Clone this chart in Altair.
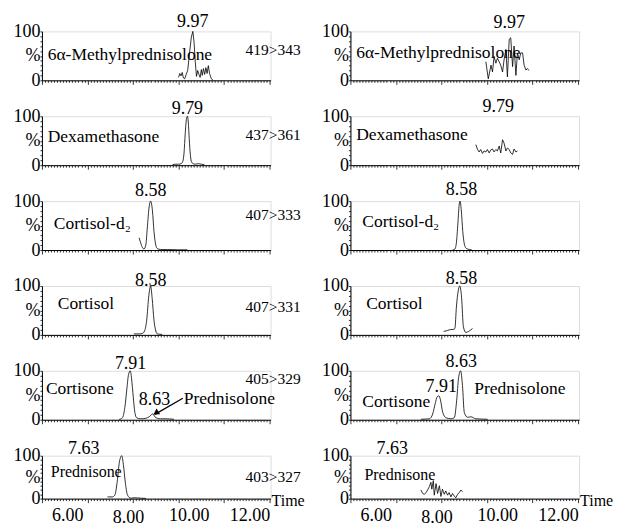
import altair as alt
import pandas as pd

FONT = "Liberation Serif"
X_DOMAIN = [5.0, 12.53]
PANEL_W = 229
ROW_H = [49, 49, 49, 49, 49, 43]

# ---------------- traces (retention time in min, relative intensity %) ----------------
# Row 1: 6a-Methylprednisolone 419>343
L1_T = [9.50, 9.54, 9.58, 9.62, 9.66, 9.70, 9.75, 9.80, 9.86, 9.92, 9.97, 10.01, 10.05, 10.09,
        10.13, 10.17, 10.21, 10.25, 10.28, 10.32, 10.36, 10.40, 10.44, 10.48, 10.52, 10.58, 10.64]
L1_I = [6, 14, 9, 16, 5, 3, 12, 20, 55, 88, 100, 78, 38, 8, 20, 12, 6, 22, 10, 24, 12, 26, 14, 30, 14, 3, 0]
R1_T = [9.46, 9.54, 9.63, 9.68, 9.73, 9.79, 9.84, 9.90, 9.95, 10.01, 10.06, 10.12, 10.17, 10.23,
        10.28, 10.34, 10.39, 10.45, 10.50, 10.56, 10.61, 10.67, 10.72, 10.78, 10.83, 10.88]
R1_I = [38, 3, 31, 17, 49, 35, 45, 38, 31, 17, 42, 63, 7, 84, 87, 28, 70, 10, 56, 42, 56, 56, 31, 21, 24, 20]

# Row 2: Dexamethasone 437>361
L2_T = [9.30, 9.40, 9.50, 9.58, 9.64, 9.68, 9.72, 9.76, 9.79, 9.82, 9.85, 9.89, 9.93, 9.98,
        10.05, 10.15, 10.25, 10.35]
L2_I = [1, 2, 2, 3, 8, 25, 65, 95, 100, 88, 55, 20, 6, 3, 2, 3, 2, 1]
R2_T = [9.13, 9.18, 9.24, 9.29, 9.35, 9.40, 9.46, 9.51, 9.57, 9.62, 9.68, 9.73, 9.79, 9.84,
        9.90, 9.95, 10.01, 10.06, 10.12, 10.17, 10.23, 10.28, 10.34, 10.39, 10.45, 10.50]
R2_I = [42, 33, 27, 32, 24, 29, 27, 32, 25, 31, 33, 27, 32, 29, 39, 25, 52, 45, 29, 35, 32, 25,
        22, 33, 27, 29]

# Row 3: Cortisol-d2 407>333
L3_T = [8.20, 8.25, 8.31, 8.36, 8.42, 8.47, 8.53, 8.58, 8.64, 8.69, 8.75, 8.80, 8.91, 9.13, 9.46, 9.79]
L3_I = [25, 15, 5, 2, 10, 45, 88, 100, 80, 38, 10, 3, 1, 1, 0.5, 0.5]
R3_T = [8.36, 8.44, 8.49, 8.54, 8.58, 8.61, 8.65, 8.70, 8.76, 8.82, 8.93, 9.00]
R3_I = [0, 2, 15, 55, 92, 100, 82, 38, 10, 3, 1, 0]

# Row 4: Cortisol 407>331
L4_T = [8.03, 8.20, 8.31, 8.38, 8.45, 8.52, 8.58, 8.63, 8.69, 8.75, 8.80, 8.96]
L4_I = [2, 2, 3, 8, 30, 80, 100, 75, 30, 8, 2, 1]
R4_T = [8.07, 8.20, 8.31, 8.38, 8.44, 8.49, 8.55, 8.60, 8.66, 8.72, 8.80, 8.89, 8.96, 9.02]
R4_I = [7, 9, 11, 11, 13, 57, 90, 100, 77, 17, 5, 7, 10, 13]

# Row 5: Cortisone / Prednisolone 405>329
L5_T = [7.54, 7.65, 7.73, 7.80, 7.85, 7.91, 7.95, 8.01, 8.06, 8.12, 8.25, 8.42, 8.53, 8.60,
        8.65, 8.72, 8.80, 8.90, 9.02, 9.35]
L5_I = [0.5, 4, 25, 65, 92, 100, 85, 45, 15, 4, 2, 3, 6, 10, 12, 6, 3, 2, 2, 1]
R5_T = [7.32, 7.60, 7.71, 7.80, 7.85, 7.91, 7.96, 8.04, 8.15, 8.31, 8.42, 8.50, 8.56, 8.63,
        8.69, 8.75, 8.86, 8.97, 9.13, 9.52]
R5_I = [1, 2, 12, 35, 46, 49, 42, 15, 4, 2, 4, 40, 85, 100, 70, 15, 5, 6, 2, 1]

# Row 6: Prednisone 403>327
L6_T = [7.16, 7.32, 7.40, 7.48, 7.55, 7.63, 7.68, 7.75, 7.82, 7.93, 8.03, 8.25, 8.42]
L6_I = [4, 4, 8, 40, 85, 100, 80, 35, 8, 1, 2, 1, 0.5]
R6_T = [7.32, 7.38, 7.43, 7.49, 7.54, 7.60, 7.65, 7.68, 7.73, 7.76, 7.82, 7.87, 7.93, 7.98,
        8.03, 8.09, 8.14, 8.20, 8.25, 8.31, 8.36, 8.42, 8.47, 8.53, 8.58, 8.64, 8.69]
R6_I = [20, 12, 10, 14, 20, 28, 38, 22, 42, 8, 35, 12, 30, 5, 22, 10, 18, 8, 14, 4, 12, 6, 2,
        10, 14, 20, 16]

# ---------------- annotations: (text, t, y%, kind) ----------------
LEFT_LABELS = [
    [("9.97", 9.97, 108, "peak"), ("6α-Methylprednisolone", 5.19, 42, "name"), ("419>343", 13.52, 52, "mrm")],
    [("9.79", 9.79, 104, "peak"), ("Dexamethasone", 5.19, 48, "name"), ("437>361", 13.52, 52, "mrm")],
    [("8.58", 8.58, 110, "peak"), ("Cortisol-d₂", 5.39, 44, "name"), ("407>333", 13.52, 62, "mrm")],
    [("8.58", 8.58, 100, "peak"), ("Cortisol", 5.52, 52, "name"), ("407>331", 13.52, 46, "mrm")],
    [("7.91", 7.92, 104, "peak"), ("8.63", 8.71, 31, "peak"), ("Cortisone", 5.13, 52, "name"),
     ("Prednisolone", 9.67, 33, "name"), ("405>329", 13.52, 73, "mrm")],
    [("7.63", 6.38, 105, "peak"), ("Prednisone", 5.29, 50, "sname"), ("403>327", 13.52, 39, "mrm")],
]
RIGHT_LABELS = [
    [("9.97", 10.23, 106, "peak"), ("6α-Methylprednisolone", 5.19, 46, "name")],
    [("9.79", 9.87, 108, "peak"), ("Dexamethasone", 5.19, 52, "name")],
    [("8.58", 8.66, 112, "peak"), ("Cortisol-d₂", 5.39, 48, "name")],
    [("8.58", 8.66, 104, "peak"), ("Cortisol", 5.52, 52, "name")],
    [("8.63", 8.65, 108, "peak"), ("7.91", 7.99, 56, "peak"), ("Cortisone", 5.39, 27, "name"),
     ("Prednisolone", 9.08, 52, "name")],
    [("7.63", 6.38, 105, "peak"), ("Prednisone", 5.46, 43, "sname")],
]
# arrow in left row 5: from label to minor peak
ARROW_T = [9.64, 8.72]
ARROW_I = [44, 11]

KIND_STYLE = {
    "peak": ("center", 18),
    "name": ("left", 17.5),
    "sname": ("left", 16),
    "mrm": ("right", 15.5),
}

TICKS = [round(5.0 + 0.1 * k, 1) for k in range(76)]
MAJOR_TEST = "abs((datum.value - 5) / 1.5 - round((datum.value - 5) / 1.5)) < 0.001"
XS = alt.Scale(domain=X_DOMAIN, nice=False, zero=False)
YS = alt.Scale(domain=[0, 100], nice=False, zero=True)


def x_axis(bottom):
    common = dict(
        values=TICKS, title=None, grid=False, domainColor="black", domainWidth=1,
        tickColor="black", tickWidth=0.8,
        tickSize={"condition": {"test": MAJOR_TEST, "value": 4}, "value": 2},
        labelFlush=False, labelOverlap=False,
    )
    if bottom:
        return alt.Axis(
            labelExpr="(datum.value >= 6 && abs(datum.value / 2 - round(datum.value / 2)) < 0.001) ? format(datum.value, '.2f') : ''",
            labelFont=FONT, labelFontSize=18, labelColor="black", labelPadding=6,
            labelOffset=-5, labelAngle=0, **common)
    return alt.Axis(labels=False, **common)


def y_axis():
    return alt.Axis(
        values=list(range(0, 101, 10)), title=None, grid=False,
        labelExpr="datum.value == 100 ? '100' : datum.value == 50 ? '%' : datum.value == 0 ? '0' : ''",
        labelFont=FONT, labelFontSize=18, labelColor="black", labelPadding=0,
        labelOverlap=False, labelFlush=False,
        domainColor="black", domainWidth=1, tickColor="black", tickSize=2, tickWidth=0.8,
    )


def panel(row, T, I, labels, interp, arrow=False):
    h = ROW_H[row]
    bottom = row == len(ROW_H) - 1
    xa = x_axis(bottom)
    ya = y_axis()

    def X(f="t"):
        return alt.X(f + ":Q", scale=XS, axis=xa)

    def Y(f="i"):
        return alt.Y(f + ":Q", scale=YS, axis=ya)

    line = alt.Chart(pd.DataFrame({"t": T, "i": I})).mark_line(
        color="black", strokeWidth=0.8, interpolate=interp
    ).encode(x=X(), y=Y())
    layers = [line]
    for kind, (align, fs) in KIND_STYLE.items():
        rows = [r for r in labels if r[3] == kind]
        if not rows:
            continue
        df = pd.DataFrame({"text": [r[0] for r in rows], "t": [r[1] for r in rows],
                           "i": [r[2] for r in rows]})
        layers.append(
            alt.Chart(df).mark_text(align=align, baseline="alphabetic", font=FONT,
                                    fontSize=fs, color="black").encode(
                x=X(), y=Y(), text="text:N")
        )
    if arrow:
        adf = pd.DataFrame({"t": [ARROW_T[0]], "i": [ARROW_I[0]],
                            "t2": [ARROW_T[1]], "i2": [ARROW_I[1]]})
        layers.append(alt.Chart(adf).mark_rule(color="black", strokeWidth=1.3).encode(
            x=X(), y=Y(), x2="t2:Q", y2="i2:Q"))
        tip = pd.DataFrame({"t": [ARROW_T[1] + 0.06], "i": [ARROW_I[1] + 4]})
        layers.append(alt.Chart(tip).mark_point(shape="triangle", filled=True, size=45,
                                                 angle=238, color="black", opacity=1).encode(
            x=X(), y=Y()))
    if bottom:
        tdf = pd.DataFrame({"text": ["Time"], "t": [X_DOMAIN[1]], "i": [0]})
        layers.append(alt.Chart(tdf).mark_text(align="left", baseline="alphabetic", font=FONT,
                                                fontSize=16, dx=1, dy=7, color="black").encode(
            x=X(), y=Y(), text="text:N"))
    return alt.layer(*layers).properties(width=PANEL_W, height=h)


LEFT = [(L1_T, L1_I, "linear"), (L2_T, L2_I, "monotone"), (L3_T, L3_I, "monotone"),
        (L4_T, L4_I, "monotone"), (L5_T, L5_I, "monotone"), (L6_T, L6_I, "monotone")]
RIGHT = [(R1_T, R1_I, "linear"), (R2_T, R2_I, "linear"), (R3_T, R3_I, "monotone"),
         (R4_T, R4_I, "monotone"), (R5_T, R5_I, "monotone"), (R6_T, R6_I, "linear")]

panels = []
for r in range(6):
    panels.append(panel(r, LEFT[r][0], LEFT[r][1], LEFT_LABELS[r], LEFT[r][2], arrow=(r == 4)))
    panels.append(panel(r, RIGHT[r][0], RIGHT[r][1], RIGHT_LABELS[r], RIGHT[r][2]))

# total width kept within the 606 px available so the page does not shrink the drawing
chart = alt.concat(*panels, columns=2, spacing={"row": 36, "column": 80}, bounds="flush").properties(
    padding={"left": 4, "top": 4, "right": 0, "bottom": 0}
).configure_view(stroke=None).configure(font=FONT, background="white")

chart.save("out.html", embed_options={"renderer": "svg", "actions": False})
